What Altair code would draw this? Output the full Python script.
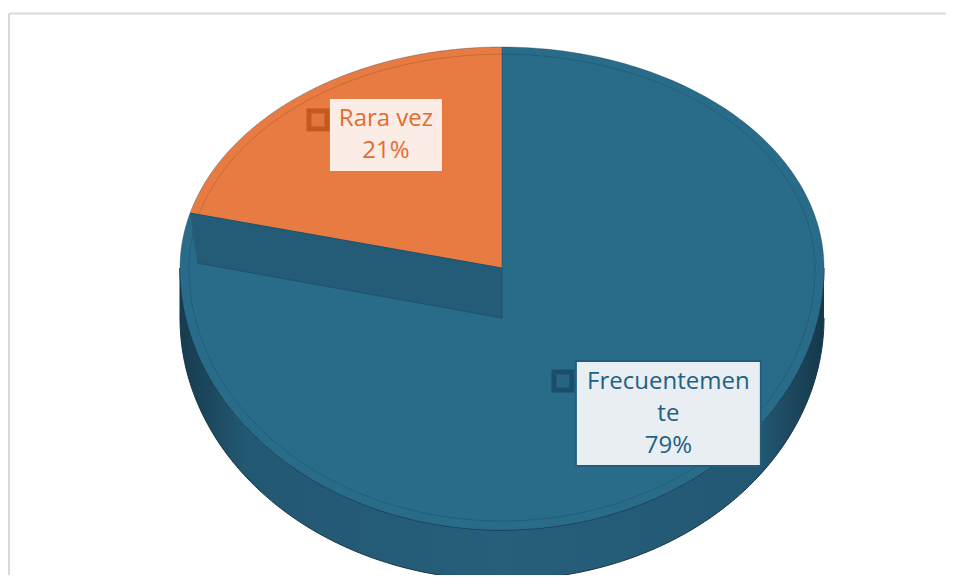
import altair as alt
import pandas as pd

# ---------------- data ----------------
categories = ["Frecuentemente", "Rara vez"]
values = [79, 21]
label_text = ["Frecuentemen\nte", "Rara vez"]  # wrapped as in the original

# ---------------- layout / style ----------------
W, H = 938, 567
CX, CY = 494, 260          # pie apex (top face)
RX, RYT, RYB = 322, 221, 262
DEPTH = 50
N = 240
BEVEL = 9
FONT = "Open Sans"
LINE_H = 32

slice_colors = ["#296C8A", "#E87B42"]
key_outer = ["#1B4E68", "#C4581D"]
key_inner = ["#276584", "#E0773E"]
text_colors = ["#1F6285", "#E46C2E"]
box_fills = ["#E9EEF2", "#FBEDE6"]
box_strokes = ["#1F5E7E", "#FBEDE6"]
label_fx = [0.843, 0.588]
label_fy = [0.703, 0.762]
box_w = [185, 110]
box_h = [105, 70]

df = pd.DataFrame({
    "categoria": categories,
    "valor": values,
    "orden": list(range(len(categories))),
    "etiqueta": label_text,
    "kout": key_outer,
    "kin": key_inner,
    "tcol": text_colors,
    "bfill": box_fills,
    "bstroke": box_strokes,
    "fx": label_fx,
    "fy": label_fy,
    "bw": box_w,
    "bh": box_h,
})


def edge_y(a, ryt=RYT, ryb=RYB):
    return f"(cos({a}) > 0 ? {CY} - {ryt}*cos({a}) : {CY} - {ryb}*cos({a}))"


def X(field):
    return alt.X(field, type="quantitative", scale=alt.Scale(domain=[0, W], nice=False, zero=False), axis=None)


def Y(field):
    return alt.Y(field, type="quantitative", scale=alt.Scale(domain=[H, 0], nice=False, zero=False), axis=None)


base = (
    alt.Chart(df)
    .transform_joinaggregate(total="sum(valor)")
    .transform_window(cum="sum(valor)", sort=[alt.SortField("orden")])
    .transform_calculate(
        a0="2*PI*(datum.cum - datum.valor)/datum.total",
        a1="2*PI*datum.cum/datum.total",
    )
)

# frame
one = pd.DataFrame({"k": [0]})
frame_top = alt.Chart(one).mark_rule(color="#D9D9D9", strokeWidth=2).encode(
    x=alt.value(1), x2=alt.value(W), y=alt.value(5.5)
)
frame_left = alt.Chart(one).mark_rule(color="#D9D9D9", strokeWidth=2).encode(
    x=alt.value(1), y=alt.value(5.5), y2=alt.value(H)
)

# side wall (front half of the cylinder)
side_grad = alt.LinearGradient(
    gradient="linear",
    stops=[
        alt.GradientStop(color="#15384b", offset=0),
        alt.GradientStop(color="#235872", offset=0.1),
        alt.GradientStop(color="#265e7b", offset=0.5),
        alt.GradientStop(color="#235872", offset=0.9),
        alt.GradientStop(color="#173b4e", offset=1),
    ],
    x1=1, x2=0, y1=0, y2=0,
)
side = (
    alt.Chart(alt.sequence(0, 2 * N + 2, as_="k"))
    .transform_calculate(j=f"datum.k <= {N} ? datum.k : {2 * N + 1} - datum.k")
    .transform_calculate(ang=f"PI/2 + PI*datum.j/{N}")
    .transform_calculate(
        px=f"{CX} + {RX}*sin(datum.ang)",
        py=f"{edge_y('datum.ang')} + (datum.k > {N} ? {DEPTH} : 0)",
    )
    .mark_line(filled=True, fill=side_grad, stroke="#153547", strokeWidth=1)
    .encode(x=X("px"), y=Y("py"), order="k:Q")
)

# top face slices
slices = (
    base.transform_calculate(steps=f"sequence(0, {N + 2})")
    .transform_flatten(["steps"], as_=["k"])
    .transform_calculate(ang=f"datum.a0 + (datum.a1 - datum.a0) * min(datum.k, {N}) / {N}")
    .transform_calculate(
        px=f"datum.k > {N} ? {CX} : {CX} + {RX}*sin(datum.ang)",
        py=f"datum.k > {N} ? {CY} : {edge_y('datum.ang')}",
    )
    .mark_line(filled=True, stroke="#10303f", strokeOpacity=0.3, strokeWidth=1, strokeJoin="round")
    .encode(
        x=X("px"), y=Y("py"), order="k:Q", detail="categoria:N",
        color=alt.Color("categoria:N", scale=alt.Scale(domain=categories, range=slice_colors), legend=None),
    )
)

# bevel line on top face
bevel = (
    alt.Chart(alt.sequence(0, N + 1, as_="k"))
    .transform_calculate(ang=f"2*PI*datum.k/{N}")
    .transform_calculate(
        px=f"{CX} + {RX - BEVEL}*sin(datum.ang)",
        py=edge_y("datum.ang", RYT - BEVEL * 0.8, RYB - BEVEL),
    )
    .mark_line(stroke="#000000", strokeOpacity=0.14, strokeWidth=1)
    .encode(x=X("px"), y=Y("py"), order="k:Q")
)

# cut face under the small slice boundary
band = (
    base.transform_filter("datum.orden == 1")
    .transform_calculate(steps="sequence(0, 4)")
    .transform_flatten(["steps"], as_=["k"])
    .transform_calculate(bx=f"{CX} + {RX}*sin(datum.a0)", by=edge_y("datum.a0"))
    .transform_calculate(
        px=f"(datum.k == 0 || datum.k == 3) ? datum.bx + (datum.k == 3 ? 7 : 0) : {CX}",
        py=f"datum.k == 0 ? datum.by : datum.k == 1 ? {CY} : datum.k == 2 ? {CY + DEPTH} : datum.by + {DEPTH}",
    )
    .mark_line(filled=True, fill="#245B77", stroke="#1E526C", strokeWidth=1)
    .encode(x=X("px"), y=Y("py"), order="k:Q")
)

# data labels
lab = (
    base.transform_calculate(amid="(datum.a0 + datum.a1)/2")
    .transform_calculate(
        lx=f"{CX} + {RX}*sin(datum.amid)*datum.fx",
        ly=f"cos(datum.amid) > 0 ? {CY} - {RYT}*cos(datum.amid)*datum.fy : {CY} - {RYB}*cos(datum.amid)*datum.fy",
        pct="format(datum.valor/datum.total, '.0%')",
    )
    .transform_calculate(
        x1="datum.lx - datum.bw/2",
        x2="datum.lx + datum.bw/2",
        y1="datum.ly - datum.bh/2",
        y2="datum.ly + datum.bh/2",
        kx="datum.lx - datum.bw/2 - 13",
        ky="datum.ly - datum.bh/2 + 20",
        txt="datum.etiqueta + '\\n' + datum.pct",
    )
    .transform_calculate(ty=f"datum.ly - (length(split(datum.txt, '\\n')) - 1) * {LINE_H / 2}")
)

shadow = lab.mark_rect(fill="#000000", opacity=0.12, xOffset=2, yOffset=3).encode(
    x=X("x1"), x2="x2:Q", y=Y("y1"), y2="y2:Q"
)
boxes = lab.mark_rect(strokeWidth=2).encode(
    x=X("x1"), x2="x2:Q", y=Y("y1"), y2="y2:Q",
    fill=alt.Fill("bfill:N", scale=None),
    stroke=alt.Stroke("bstroke:N", scale=None),
)
keys_out = lab.mark_square(size=529, strokeWidth=0, opacity=1).encode(
    x=X("kx"), y=Y("ky"), fill=alt.Fill("kout:N", scale=None)
)
keys_in = lab.mark_square(size=169, strokeWidth=0, opacity=1).encode(
    x=X("kx"), y=Y("ky"), fill=alt.Fill("kin:N", scale=None)
)
texts = lab.mark_text(
    font=FONT, fontSize=24, lineBreak="\n", lineHeight=LINE_H, baseline="middle", align="center"
).encode(
    x=X("lx"), y=Y("ty"), text="txt:N", fill=alt.Fill("tcol:N", scale=None)
)

chart = (
    alt.layer(frame_top, frame_left, side, slices, bevel, band, shadow, boxes, keys_out, keys_in, texts)
    .properties(width=W, height=H, padding=0, autosize=alt.AutoSizeParams(type="none"), background="white")
    .configure_view(stroke=None)
)

chart.save("out.html", embed_options={"renderer": "svg", "actions": False})
